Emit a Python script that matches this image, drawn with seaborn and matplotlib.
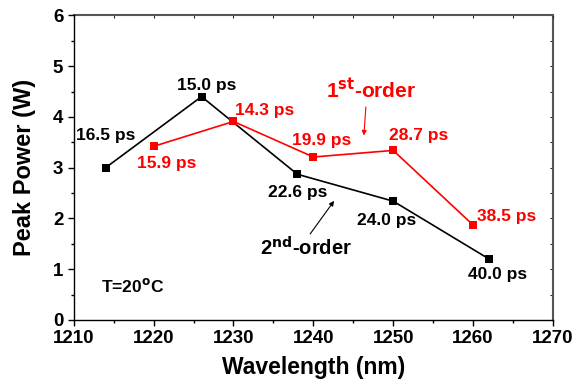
import pandas as pd
import seaborn as sns
import matplotlib.pyplot as plt
from matplotlib.ticker import MultipleLocator

# 2nd-order (black) and 1st-order (red) peak power vs wavelength
wl_2nd = [1214, 1226, 1238, 1250, 1262]
pw_2nd = [3.00, 4.40, 2.87, 2.34, 1.20]
lab_2nd = ['16.5 ps', '15.0 ps', '22.6 ps', '24.0 ps', '40.0 ps']
lab_2nd_pos = [(1214.0, 3.63), (1226.6, 4.61), (1238.0, 2.51), (1249.2, 1.96), (1263.1, 0.90)]

wl_1st = [1220, 1230, 1240, 1250, 1260]
pw_1st = [3.42, 3.91, 3.21, 3.34, 1.87]
lab_1st = ['15.9 ps', '14.3 ps', '19.9 ps', '28.7 ps', '38.5 ps']
lab_1st_pos = [(1221.6, 3.09), (1233.9, 4.12), (1241.0, 3.53), (1253.2, 3.63), (1264.2, 2.03)]

df = pd.concat([
    pd.DataFrame({'wl': wl_2nd, 'pw': pw_2nd, 'order': '2nd'}),
    pd.DataFrame({'wl': wl_1st, 'pw': pw_1st, 'order': '1st'}),
])

sns.set_style('ticks')
plt.rcParams['font.family'] = ['Liberation Sans', 'DejaVu Sans']
plt.rcParams['font.weight'] = 'bold'

fig = plt.figure(figsize=(5.76, 3.85), dpi=100)
ax = fig.add_axes([0.128, 0.169, 0.832, 0.791])

sns.lineplot(data=df, x='wl', y='pw', hue='order', palette={'2nd': 'black', '1st': 'red'},
             marker='s', markersize=5.5, markeredgewidth=0, linewidth=1.2, legend=False, ax=ax)

for (x, y), t in zip(lab_2nd_pos, lab_2nd):
    ax.text(x, y, t, color='black', fontsize=12.5, fontweight='bold', ha='center', va='center')
for (x, y), t in zip(lab_1st_pos, lab_1st):
    ax.text(x, y, t, color='red', fontsize=12.5, fontweight='bold', ha='center', va='center')

ax.text(1247.2, 4.53, r'1$^{\mathbf{st}}$-order', color='red', fontsize=15, fontweight='bold',
        ha='center', va='center')
ax.annotate('', xy=(1246.3, 3.58), xytext=(1246.6, 4.25),
            arrowprops=dict(arrowstyle='-|>', color='red', lw=0.8, mutation_scale=7))
ax.text(1239.1, 1.42, r'2$^{\mathbf{nd}}$-order', color='black', fontsize=14.5, fontweight='bold',
        ha='center', va='center')
ax.annotate('', xy=(1242.8, 2.39), xytext=(1239.4, 1.65),
            arrowprops=dict(arrowstyle='-|>', color='black', lw=0.8, mutation_scale=7))
ax.text(1213.4, 0.67, r'T=20$^{\mathrm{o}}$C', color='black', fontsize=12.5, ha='left', va='center')

ax.set_xlim(1210, 1270)
ax.set_ylim(0, 6)
ax.xaxis.set_major_locator(MultipleLocator(10))
ax.xaxis.set_minor_locator(MultipleLocator(5))
ax.yaxis.set_major_locator(MultipleLocator(1))
ax.yaxis.set_minor_locator(MultipleLocator(0.5))
ax.tick_params(which='major', direction='out', length=4, width=1, labelsize=13.5,
               colors='black', labelcolor='black')
ax.tick_params(which='minor', direction='out', length=2.5, width=1, colors='black')
for lbl in ax.get_xticklabels() + ax.get_yticklabels():
    lbl.set_fontweight('bold')

ax2 = ax.secondary_yaxis('right')
ax2.yaxis.set_major_locator(MultipleLocator(0.5))
ax2.tick_params(direction='in', length=2, labelright=False)
ax3 = ax.secondary_xaxis('top')
ax3.xaxis.set_major_locator(MultipleLocator(5))
ax3.tick_params(direction='in', length=2, labeltop=False)
ax2.spines['right'].set_color('#555555')
ax2.spines['right'].set_linewidth(1.5)
ax3.spines['top'].set_color('#555555')
ax3.spines['top'].set_linewidth(1.5)

for s in ['left', 'bottom']:
    ax.spines[s].set_color('black')
    ax.spines[s].set_linewidth(1)
ax.spines['top'].set_visible(False)
ax.spines['right'].set_visible(False)

ax.set_xlabel('Wavelength (nm)', fontsize=16.5, fontweight='bold', color='black', labelpad=6)
ax.set_ylabel('Peak Power (W)', fontsize=17, fontweight='bold', color='black', labelpad=12)

fig.savefig('out.png', dpi=100)
